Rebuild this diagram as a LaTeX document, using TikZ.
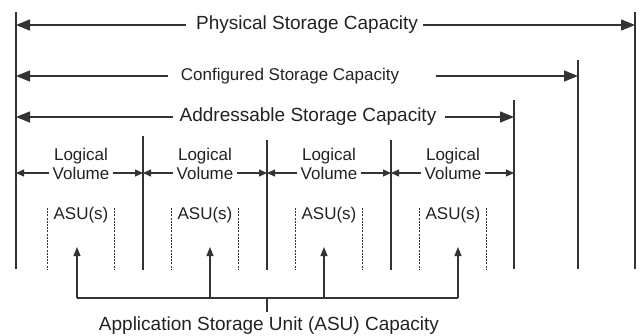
\documentclass[tikz,border=0pt]{standalone}
\usepackage{fontspec}
\setmainfont{Liberation Sans}
\usetikzlibrary{arrows.meta}
\definecolor{ln}{HTML}{333333}
\definecolor{tx}{HTML}{222222}
\tikzset{
  vline/.style={draw=ln, line width=1.8pt},
  dimline/.style={draw=ln, line width=1.3pt, -{Triangle[length=14pt,width=11pt]}},
  lvline/.style={draw=ln, line width=1.1pt, -{Triangle[length=8pt,width=7pt]}},
  uparrow/.style={draw=ln, line width=1.1pt, -{Triangle[length=9pt,width=7pt]}},
  dotline/.style={draw=ln, line width=1.6pt, dash pattern=on 2pt off 1.2pt},
  plainline/.style={draw=ln, line width=1.1pt},
  bigtxt/.style={text=tx, font=\fontsize{19}{21}\selectfont, inner sep=0pt},
  midtxt/.style={text=tx, font=\fontsize{17}{19}\selectfont, inner sep=0pt},
}
\begin{document}
\begin{tikzpicture}[x=1pt,y=-1pt]
\useasboundingbox (0,0) rectangle (640,335);
% vertical boundaries
\coordinate (vLt) at (16,12);   \coordinate (vLb) at (16,269);
\coordinate (vPt) at (635,12);  \coordinate (vPb) at (635,269);
\coordinate (vCt) at (578,60);  \coordinate (vCb) at (578,269);
\coordinate (vAt) at (514,100); \coordinate (vAb) at (514,269);
\coordinate (d1t) at (143,136); \coordinate (d1b) at (143,270);
\coordinate (d2t) at (267,140); \coordinate (d2b) at (267,270);
\coordinate (d3t) at (391,140); \coordinate (d3b) at (391,270);
\draw[vline] (vLt) -- (vLb);
\draw[vline] (vPt) -- (vPb);
\draw[vline] (vCt) -- (vCb);
\draw[vline] (vAt) -- (vAb);
\draw[vline] (d1t) -- (d1b);
\draw[vline] (d2t) -- (d2b);
\draw[vline] (d3t) -- (d3b);

% Physical
\node[bigtxt] (phys) at (307,25) {Physical Storage Capacity};
\coordinate (physL) at (16,25); \coordinate (physR) at (635,25);
\coordinate (physA) at (186,25); \coordinate (physB) at (423,25);
\draw[dimline] (physA) -- (physL);
\draw[dimline] (physB) -- (physR);

% Configured
\node[midtxt] (conf) at (290,76) {Configured Storage Capacity};
\coordinate (confL) at (16,76); \coordinate (confR) at (578,76);
\coordinate (confA) at (168,76); \coordinate (confB) at (436,76);
\draw[dimline] (confA) -- (confL);
\draw[dimline] (confB) -- (confR);

% Addressable
\node[bigtxt] (addr) at (308,117) {Addressable Storage Capacity};
\coordinate (addrL) at (16,117); \coordinate (addrR) at (514,117);
\coordinate (addrA) at (173,117); \coordinate (addrB) at (445,117);
\draw[dimline] (addrA) -- (addrL);
\draw[dimline] (addrB) -- (addrR);

% Logical volumes
\foreach \i/\c/\l/\r in {1/81/16/143, 2/205/143/267, 3/329/267/391, 4/453/391/514}{
  \node[midtxt] (lg\i) at (\c,156) {Logical};
  \node[midtxt, inner xsep=3pt] (vo\i) at (\c,173) {Volume};
  \coordinate (vl\i) at (\l,173);
  \coordinate (vr\i) at (\r,173);
  \draw[lvline] (vo\i.west) -- (vl\i);
  \draw[lvline] (vo\i.east) -- (vr\i);
  \node[midtxt] (asu\i) at (\c,215) {ASU(s)};
  \coordinate (dl\i t) at (\c-33.5,208); \coordinate (dl\i b) at (\c-33.5,270);
  \coordinate (dr\i t) at (\c+33.5,208); \coordinate (dr\i b) at (\c+33.5,270);
  \draw[dotline] (dl\i t) -- (dl\i b);
  \draw[dotline] (dr\i t) -- (dr\i b);
}

% ASU capacity arrows
\foreach \i/\x in {1/77, 2/210, 3/324, 4/458}{
  \coordinate (ub\i) at (\x,298);
  \coordinate (ut\i) at (\x,247);
  \draw[uparrow] (ub\i) -- (ut\i);
}
\draw[plainline] (ub1) -- (ub4);
\node[bigtxt] (appl) at (269,326) {Application Storage Unit (ASU) Capacity};
\coordinate (stemT) at (267,298);
\coordinate (stemB) at (267,312);
\draw[plainline] (stemT) -- (stemB);
\end{tikzpicture}
\end{document}
